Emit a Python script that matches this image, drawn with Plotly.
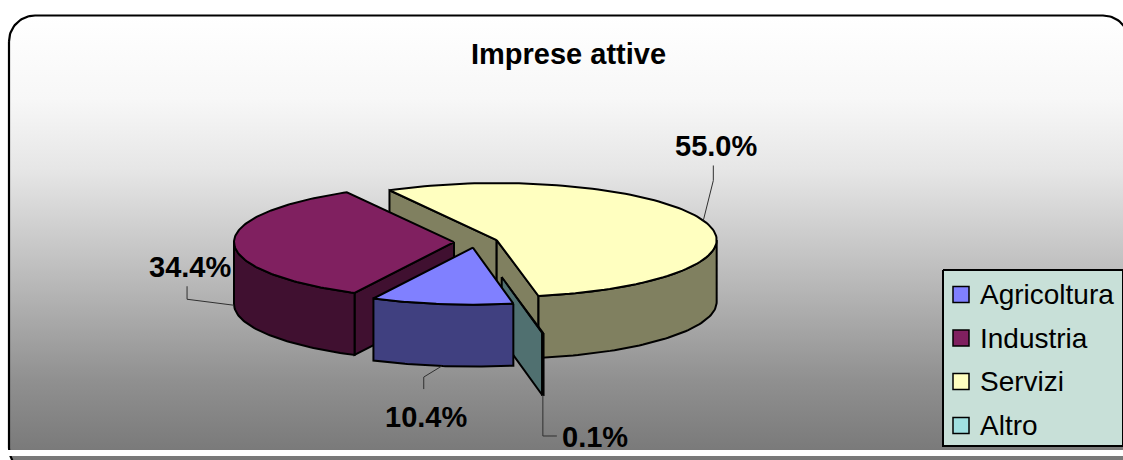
import numpy as np
import plotly.graph_objects as go

# Chart data
categories = ["Agricoltura", "Industria", "Servizi", "Altro"]
shares = [10.4, 34.4, 55.0, 0.1]
explosion = [0.1, 0.1, 0.1, 0.625]
title_text = "Imprese attive"

# Slice colours
top_colors = ["#8080FF", "#802060", "#FFFFC0", "#A0E0E0"]
side_colors = ["#404080", "#401030", "#808060", "#507070"]

# Projected pie geometry
CX, CY, RX, RY, DEPTH = 476.0, 242.0, 220.0, 57.0, 62.0
FIRST_ANGLE = 169.4

# Label centres and leader elbows, relative to the rim point of each slice
label_centers = [(426, 417), (190, 267), (716, 146), (595, 437)]
leader_elbows = [
    [(-18, 11), (-18, 23)],
    [(-47, -6), (-47, -19)],
    [(10, -40), (10, -55)],
    [(0, 41), (14, 41)],
]
LABEL_SIZE = 29

fig = go.Figure()


def poly(xs, ys, fill=None, width=2.0, color="black", gradient=None):
    kw = {}
    if gradient is not None:
        kw["fillgradient"] = gradient
        kw["fill"] = "toself"
    elif fill is not None:
        kw["fillcolor"] = fill
        kw["fill"] = "toself"
    fig.add_trace(go.Scatter(
        x=list(xs), y=list(ys), mode="lines",
        line=dict(color=color, width=width, shape="linear"),
        hoverinfo="skip", showlegend=False, **kw,
    ))


def rim(cx, cy, deg):
    rad = np.radians(deg)
    return cx + RX * np.sin(rad), cy - RY * np.cos(rad)


def arc(a, b, n=60):
    return np.linspace(a, b, n)


# Chart area: rounded frame with the vertical grey ramp
def rounded_frame(x0, y0, x1, y1, r):
    xs, ys = [], []
    for cx, cy, a, b in [(x0 + r, y0 + r, 180, 270), (x1 - r, y0 + r, 270, 360),
                         (x1 - r, y1 - r, 0, 90), (x0 + r, y1 - r, 90, 180)]:
        t = np.radians(np.linspace(a, b, 24))
        xs += list(cx + r * np.cos(t))
        ys += list(cy + r * np.sin(t))
    return xs + xs[:1], ys + ys[:1]


FRAME_TOP, FRAME_BOTTOM = 15.5, 474.0
ramp_px = [15.5, 100, 170, 260, 380, 450, 474]
ramp_col = ["#FFFFFF", "#F7F7F7", "#E6E6E6", "#C2C2C2", "#909090", "#7A7A7A", "#767676"]
ramp = [[(p - FRAME_TOP) / (FRAME_BOTTOM - FRAME_TOP), c] for p, c in zip(ramp_px, ramp_col)]
fx, fy = rounded_frame(9, FRAME_TOP, 1129, FRAME_BOTTOM, 26)
poly(fx, fy, width=2.2, gradient=dict(type="vertical", colorscale=ramp,
                                      start=FRAME_TOP, stop=FRAME_BOTTOM))

# Pale strip crossing the bottom of the frame
poly([0, 1123, 1123, 0, 0], [450, 450, 456, 456, 450], fill="white", width=0, color="white")

# Slice angles and exploded centres
total = sum(shares)
starts, ends, centers, mids = [], [], [], []
angle = FIRST_ANGLE
for v, e in zip(shares, explosion):
    span = 360 * v / total
    mid = angle + span / 2
    rad = np.radians(mid)
    starts.append(angle)
    ends.append(angle + span)
    mids.append(mid)
    centers.append((CX + e * RX * np.sin(rad), CY - e * RY * np.cos(rad)))
    angle += span


def cut_face(i, deg):
    cx, cy = centers[i]
    px, py = rim(cx, cy, deg)
    poly([cx, px, px, cx, cx], [cy, py, py + DEPTH, cy + DEPTH, cy], fill=side_colors[i])


def outer_side(i, a, b):
    cx, cy = centers[i]
    px, py = rim(cx, cy, arc(a, b))
    poly(list(px) + list(px[::-1]) + [px[0]],
         list(py) + list(py[::-1] + DEPTH) + [py[0]], fill=side_colors[i])


def top_face(i, width=2.0):
    cx, cy = centers[i]
    px, py = rim(cx, cy, arc(starts[i], ends[i], 120))
    poly([cx] + list(px) + [cx], [cy] + list(py) + [cy], fill=top_colors[i], width=width)


AGR, IND, SER, ALT = 0, 1, 2, 3

# Back to front: services, industry, the thin remainder, agriculture
cut_face(SER, starts[SER])
cut_face(SER, ends[SER])
outer_side(SER, 90, ends[SER] - 360)
top_face(SER)

cut_face(IND, starts[IND])
outer_side(IND, starts[IND], 270)
top_face(IND)

cut_face(ALT, ends[ALT])
outer_side(ALT, starts[ALT], ends[ALT])
top_face(ALT, width=1.2)

outer_side(AGR, starts[AGR], ends[AGR])
top_face(AGR)

# Leader lines start on the lower rim (or upper rim for services) at each slice's middle
annotations = []
for i, v in enumerate(shares):
    rx, ry = rim(centers[i][0], centers[i][1], mids[i])
    if i != SER:
        ry += DEPTH
    xs = [rx] + [rx + d[0] for d in leader_elbows[i]]
    ys = [ry] + [ry + d[1] for d in leader_elbows[i]]
    poly(xs, ys, width=1, color="#303030")
    annotations.append(dict(
        x=label_centers[i][0], y=label_centers[i][1], text=f"<b>{v:.1f}%</b>",
        showarrow=False, xanchor="center", yanchor="middle",
        font=dict(family="Liberation Sans", size=LABEL_SIZE, color="black"),
    ))

# Legend box
poly([943, 1123, 1123, 943, 943], [270, 270, 446, 446, 270], fill="#C8E0D8", width=2)
legend_rows = [294.5, 338, 381.5, 425.5]
fig.add_trace(go.Scatter(
    x=[961] * 4, y=legend_rows, mode="markers",
    marker=dict(symbol="square", size=16, color=top_colors, line=dict(color="black", width=1.5)),
    hoverinfo="skip", showlegend=False,
))
for name, row in zip(categories, legend_rows):
    annotations.append(dict(
        x=978, y=row, text=name, showarrow=False, xanchor="left", yanchor="middle",
        font=dict(family="Liberation Sans", size=28, color="black"),
    ))

annotations.append(dict(
    x=568, y=54, text=f"<b>{title_text}</b>", showarrow=False,
    xanchor="center", yanchor="middle",
    font=dict(family="Liberation Sans", size=29, color="black"),
))

fig.update_layout(
    width=1123, height=460, margin=dict(l=0, r=0, t=0, b=0),
    paper_bgcolor="white", plot_bgcolor="white", showlegend=False,
    xaxis=dict(range=[0, 1123], visible=False, fixedrange=True),
    yaxis=dict(range=[460, 0], visible=False, fixedrange=True),
    annotations=annotations,
)

fig.write_html("out.html", config=dict(displayModeBar=False))
